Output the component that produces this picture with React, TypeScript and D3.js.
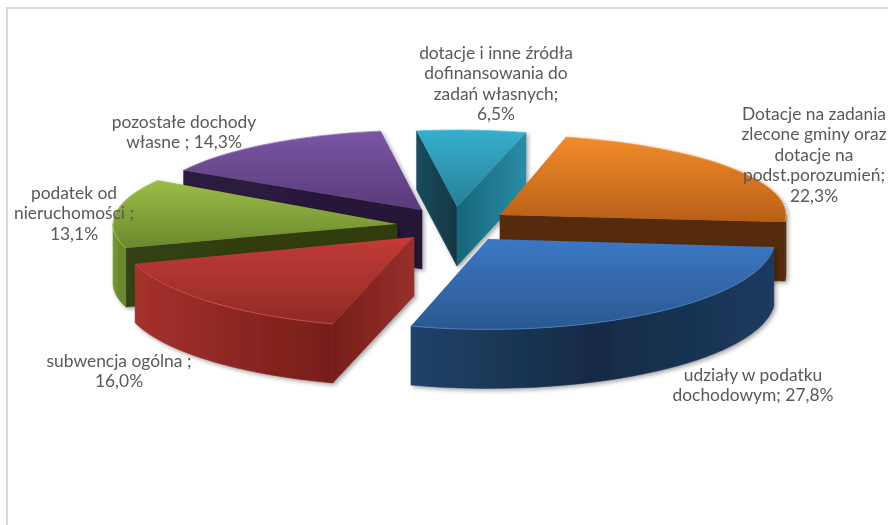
import React from "react";
import * as d3 from "d3";

// ---- data ----
const sliceKeys = ["orange", "blue", "red", "green", "purple", "teal"];
const sliceValues = [22.3, 27.8, 16.0, 13.1, 14.3, 6.5];
const sliceLabels = [
  ["Dotacje na zadania", "zlecone gminy oraz", "dotacje na", "podst.porozumień;", "22,3%"],
  ["udziały w podatku", "dochodowym; 27,8%"],
  ["subwencja ogólna ;", "16,0%"],
  ["podatek od", "nieruchomości ;", "13,1%"],
  ["pozostałe dochody", "własne ; 14,3%"],
  ["dotacje i inne źródła", "dofinansowania do", "zadań własnych;", "6,5%"],
];

// ---- layout ----
const W = 888, H = 525;
const FIRST_ANGLE = (14.8 * Math.PI) / 180;
const DEPTH = 59;
const apexX = [500, 488, 414, 397, 422, 457];
const apexY = [215, 239, 237, 224, 210, 207];
const radii = [286, 287, 292, 284, 275, 270];
const squash = [0.28, 0.315, 0.31, 0.285, 0.29, 0.285];
// small perspective corrections of each slice's edges, in degrees
const startNudge = [-1.5, 0, 1, 0, 0, 0];
const endNudge = [0, 0.4, 0, 2.8, 0, 0];
const labelX = [814, 753, 119, 74, 184, 496];
const labelY = [120, 381, 367, 199, 128, 59];
const LINE = 20.4;
const drawOrder = [4, 5, 0, 3, 1, 2];

// ---- styles ----
const topStops = [
  ["#f28b2b", "#b85f18"],
  ["#3b78c4", "#2b5890"],
  ["#c43b37", "#8e2a26"],
  ["#9cbd46", "#6b892d"],
  ["#7b56a5", "#593a7a"],
  ["#36afce", "#287f98"],
];
const rimStops = [
  ["#542a0b", "#542a0b", "#542a0b"],
  ["#204268", "#152b45", "#1c3a5e"],
  ["#a5312d", "#8c2723", "#781e1a"],
  ["#7a9a36", "#6b892d", "#6b892d"],
  ["#2a1a3c", "#2a1a3c", "#2a1a3c"],
  ["#1a4a5b", "#1a4a5b", "#1a4a5b"],
];
const startWall = [
  ["#542a0b", "#542a0b"],
  ["#1c3c62", "#1c3c62"],
  ["#771e1a", "#97302b"],
  ["#344012", "#303b10"],
  ["#2c1c40", "#251636"],
  ["#1b4c5d", "#113643"],
];
const endWall = [
  ["#542a0b", "#542a0b"],
  ["#1c3c62", "#1c3c62"],
  ["#771e1a", "#97302b"],
  ["#344012", "#303b10"],
  ["#2a1a3c", "#2a1a3c"],
  ["#16667a", "#2c8ca7"],
];
const rimEdge = ["#f5a050", "#4f8ad0", "#e0504a", "#aecb5c", "#9070b8", "#50c0dc"];

const pieLayout = d3
  .pie<number>()
  .sort(null)
  .startAngle(FIRST_ANGLE)
  .endAngle(FIRST_ANGLE + 2 * Math.PI);
const arcs = pieLayout(sliceValues);
const lineGen = d3.line<[number, number]>();
const deg = Math.PI / 180;

function rimPoint(i: number, a: number, dy = 0): [number, number] {
  return [
    apexX[i] + radii[i] * Math.sin(a),
    apexY[i] - radii[i] * squash[i] * Math.cos(a) + dy,
  ];
}

function rimWall(i: number, a0: number, a1: number) {
  const angles = d3.range(0, 41).map((t) => a0 + ((a1 - a0) * t) / 40);
  const upper = angles.map((a) => rimPoint(i, a));
  const lower = angles.map((a) => rimPoint(i, a, DEPTH)).reverse();
  return lineGen([...upper, ...lower]) + "Z";
}

function radialWall(i: number, a: number) {
  const apex: [number, number] = [apexX[i], apexY[i]];
  return (
    lineGen([apex, rimPoint(i, a), rimPoint(i, a, DEPTH), [apex[0], apex[1] + DEPTH]]) + "Z"
  );
}

function Slice({ i }: { i: number }) {
  const a0 = arcs[i].startAngle + startNudge[i] * deg;
  const a1 = arcs[i].endAngle + endNudge[i] * deg;
  const top = d3.arc()({ innerRadius: 0, outerRadius: radii[i], startAngle: a0, endAngle: a1 } as any) as string;
  const rimFrom = Math.max(a0, Math.PI / 2);
  const rimTo = Math.min(a1, (3 * Math.PI) / 2);
  const edge = d3.range(0, 41).map((t) => rimPoint(i, a0 + ((a1 - a0) * t) / 40));
  return (
    <g filter="url(#shadow)">
      {Math.sin(a0) < 0 && (
        <path d={radialWall(i, a0)} fill={`url(#start-${i})`} stroke={`url(#start-${i})`} strokeWidth={0.6} />
      )}
      {Math.sin(a1) > 0 && (
        <path d={radialWall(i, a1)} fill={`url(#end-${i})`} stroke={`url(#end-${i})`} strokeWidth={0.6} />
      )}
      {rimFrom < rimTo && (
        <path d={rimWall(i, rimFrom, rimTo)} fill={`url(#rim-${i})`} stroke={`url(#rim-${i})`} strokeWidth={0.6} />
      )}
      <path
        d={top}
        transform={`translate(${apexX[i]},${apexY[i]}) scale(1,${squash[i]})`}
        fill={`url(#top-${i})`}
      />
      <path d={lineGen(edge) as string} fill="none" stroke={rimEdge[i]} strokeWidth={1} strokeOpacity={0.75} />
    </g>
  );
}

function Grad({ id, stops, vertical }: { id: string; stops: string[]; vertical?: boolean }) {
  return (
    <linearGradient id={id} x1="0" y1="0" x2={vertical ? 0 : 1} y2={vertical ? 1 : 0}>
      {stops.map((c, k) => (
        <stop key={k} offset={k / (stops.length - 1)} stopColor={c} />
      ))}
    </linearGradient>
  );
}

export default function App() {
  return (
    <svg
      width={W}
      height={H}
      viewBox={`0 0 ${W} ${H}`}
      style={{ position: "absolute", left: 0, top: 0, background: "#fff" }}
    >
      <defs>
        <filter id="shadow" x="-10%" y="-10%" width="120%" height="130%">
          <feDropShadow dx={2} dy={2} stdDeviation={2} floodColor="#000" floodOpacity={0.35} />
        </filter>
        {sliceKeys.map((_, i) => (
          <React.Fragment key={i}>
            <Grad id={`top-${i}`} stops={topStops[i]} vertical />
            <Grad id={`rim-${i}`} stops={rimStops[i]} />
            <Grad id={`start-${i}`} stops={startWall[i]} />
            <Grad id={`end-${i}`} stops={endWall[i]} />
          </React.Fragment>
        ))}
      </defs>
      <path d={`M7,${H}V8H${W}`} fill="none" stroke="#d9d9d9" strokeWidth={2} />
      <g style={{ filter: "blur(0.45px)" }}>
        {drawOrder.map((i) => (
          <Slice key={sliceKeys[i]} i={i} />
        ))}
        {sliceLabels.map((lines, i) => (
          <g key={i} fontFamily="Lato, 'Open Sans', sans-serif" fontSize={17.4} fill="#595959" textAnchor="middle">
            {lines.map((t, k) => (
              <text key={k} x={labelX[i]} y={labelY[i] + k * LINE}>
                {t}
              </text>
            ))}
          </g>
        ))}
      </g>
    </svg>
  );
}
